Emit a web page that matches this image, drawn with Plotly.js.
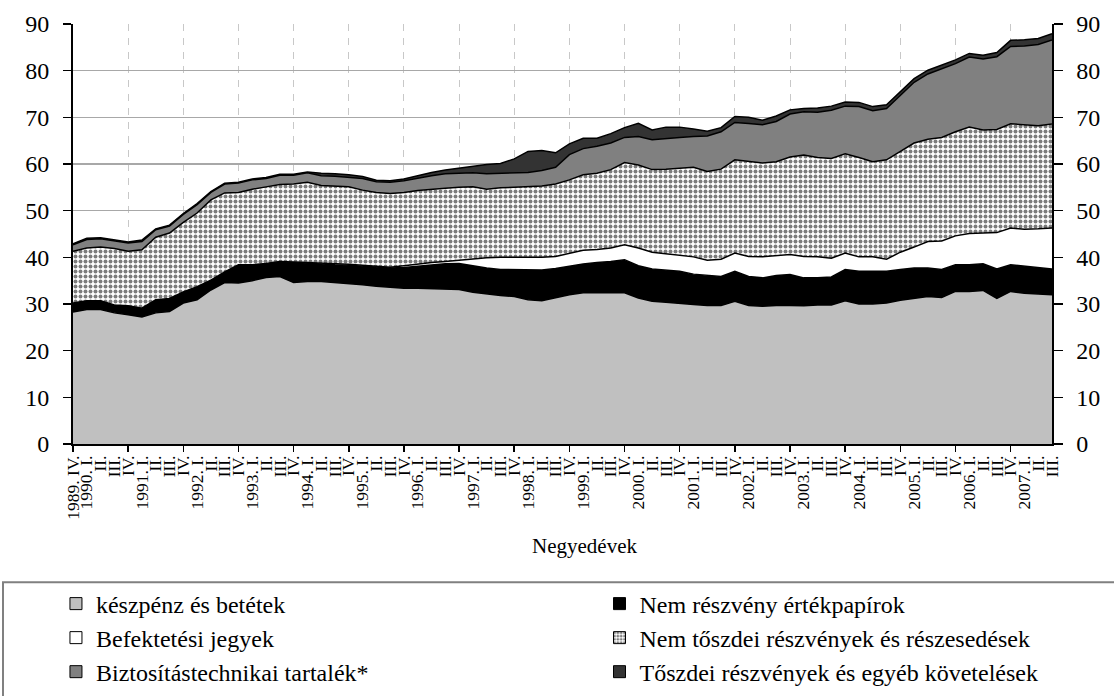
<!DOCTYPE html>
<html><head><meta charset="utf-8">
<script src="https://cdn.plot.ly/plotly-3.0.1.min.js"></script>
<style>html,body{margin:0;padding:0;background:#fff}#chart{width:1114px;height:696px}</style>
</head><body><div id="chart"></div>
<script>
const quarterLabels = [
 "1989. IV.",
 "1990. I.","II.","III.","IV.",
 "1991. I.","II.","III.","IV.",
 "1992. I.","II.","III.","IV.",
 "1993. I.","II.","III.","IV.",
 "1994. I.","II.","III.","IV.",
 "1995. I.","II.","III.","IV.",
 "1996. I.","II.","III.","IV.",
 "1997. I.","II.","III.","IV.",
 "1998. I.","II.","III.","IV.",
 "1999. I.","II.","III.","IV.",
 "2000. I.","II.","III.","IV.",
 "2001. I.","II.","III.","IV.",
 "2002. I.","II.","III.","IV.",
 "2003. I.","II.","III.","IV.",
 "2004. I.","II.","III.","IV.",
 "2005. I.","II.","III.","IV.",
 "2006. I.","II.","III.","IV.",
 "2007. I.","II.","III."
];

const keszpenz = [
 28.3,28.8,28.8,28.1,27.7,27.2,28.1,28.4,30.2,30.9,
 33.0,34.6,34.5,35.0,35.7,35.9,34.6,34.8,34.8,34.6,
 34.4,34.1,33.8,33.6,33.4,33.4,33.3,33.2,33.1,32.5,
 32.1,31.8,31.6,30.9,30.7,31.3,32.0,32.4,32.4,32.4,
 32.4,31.3,30.6,30.4,30.1,29.9,29.7,29.7,30.6,29.7,
 29.5,29.7,29.7,29.6,29.8,29.8,30.7,30.0,30.0,30.2,
 30.8,31.2,31.6,31.4,32.7,32.7,32.9,31.2,32.7,32.3,
 32.2,32.0];
const nemReszveny = [
 1.9,1.9,1.9,1.7,1.9,1.9,2.8,2.8,2.4,2.8,
 2.1,2.3,3.9,3.4,3.0,3.2,4.3,3.9,3.8,3.8,
 3.9,4.0,4.1,4.1,4.4,4.7,5.1,5.4,5.6,5.7,
 5.6,5.6,5.8,6.4,6.6,6.3,6.1,6.2,6.5,6.7,
 7.1,6.9,6.9,6.8,6.9,6.5,6.4,6.2,6.4,6.2,
 6.1,6.4,6.6,6.0,5.8,6.0,6.7,7.0,7.0,6.8,
 6.6,6.5,6.1,6.0,5.7,5.7,5.7,6.3,5.7,5.8,
 5.7,5.5];
const befektetesi = [
 0,0,0,0,0,0,0,0,0,0,
 0,0,0,0,0,0,0.1,0.2,0.2,0.2,
 0.2,0.2,0.2,0.2,0.4,0.5,0.5,0.5,0.7,1.4,
 2.2,2.6,2.6,2.7,2.7,2.6,2.8,2.9,2.8,2.9,
 3.2,3.8,3.6,3.6,3.4,3.7,3.3,3.7,3.9,4.3,
 4.5,4.3,4.3,4.6,4.5,4.0,3.5,3.1,3.1,2.6,
 3.7,4.5,5.7,6.1,6.2,6.7,6.6,7.8,7.9,7.9,
 8.2,8.8];
const nemTozsdei = [
 11.1,11.3,11.5,12.1,11.7,12.5,13.4,14.0,14.9,15.8,
 17.2,16.9,15.5,16.2,16.4,16.5,16.7,17.2,16.6,16.7,
 16.6,16.1,15.8,15.8,15.7,15.7,15.7,15.7,15.6,15.5,
 14.7,14.9,15.0,15.1,15.3,15.5,15.7,16.2,16.3,16.8,
 17.6,17.8,17.7,18.1,18.7,19.2,19.0,19.3,20.0,20.3,
 20.1,20.1,20.9,21.7,21.3,21.4,21.3,21.3,20.4,21.3,
 21.6,22.3,21.9,22.2,22.3,22.8,22.1,22.1,22.3,22.4,
 22.1,22.3];
const biztositas = [
 1.4,1.8,1.8,1.7,1.8,1.8,1.6,1.5,1.7,1.8,
 1.6,1.9,2.0,2.0,1.8,2.0,1.9,2.0,2.1,2.1,
 2.0,2.5,2.3,2.4,2.5,2.7,2.9,3.1,3.0,3.0,
 3.3,3.1,3.1,3.1,3.3,3.6,5.4,5.6,5.8,5.7,
 5.4,6.1,6.4,6.6,6.6,6.6,7.6,8.0,8.0,8.2,
 8.2,8.6,9.2,9.3,9.7,10.3,10.2,10.9,10.9,11.0,
 12.1,13.0,14.0,14.7,14.6,15.0,15.2,15.6,16.6,16.9,
 17.4,18.0];
const tozsdei = [
 0.2,0.3,0.2,0.2,0.2,0.3,0.2,0.2,0.2,0.2,
 0.2,0.2,0.2,0.2,0.2,0.2,0.2,0.2,0.5,0.5,
 0.6,0.4,0.3,0.3,0.4,0.5,0.7,0.8,1.1,1.5,
 2.0,2.1,3.0,4.5,4.3,3.1,2.3,2.2,1.7,2.0,
 2.1,2.8,2.1,2.4,2.2,1.6,1.0,0.9,1.3,1.3,
 1.0,1.2,0.9,0.7,0.9,0.9,0.9,0.9,0.9,0.8,
 0.8,0.8,0.8,0.8,0.8,0.8,0.8,0.9,1.3,1.3,
 1.3,1.3];

const seriesNames = [
 "készpénz és betétek",
 "Nem részvény értékpapírok",
 "Befektetési jegyek",
 "Nem tőszdei részvények és részesedések",
 "Biztosítástechnikai tartalék*",
 "Tőszdei részvények és egyéb követelések"
];
const seriesValues = [keszpenz, nemReszveny, befektetesi, nemTozsdei, biztositas, tozsdei];
const seriesColors = ["#c0c0c0", "#000000", "#ffffff", "#ffffff", "#808080", "#333333"];
const axisTitle = "Negyedévek";

const FONT = "Liberation Serif, Times New Roman, serif";
const idx = quarterLabels.map((_, i) => i);
const gridIdx = idx.filter(i => quarterLabels[i].endsWith("IV."));
const lastIdx = idx.length - 1;

const traces = [];
seriesValues.forEach((vals, k) => {
  const t = {type: "scatter", x: idx, y: vals, stackgroup: "one", mode: "lines",
    line: {color: "#000000", width: 1.5}, fillcolor: seriesColors[k],
    name: seriesNames[k], showlegend: false, hoverinfo: "skip"};
  if (k === 3) t.fillpattern = {shape: ".", fgcolor: "#7c7c7c", bgcolor: "#ffffff", size: 5, solidity: 0.5};
  traces.push(t);
});
// invisible carrier for the overlay axes (quarter labels, right y axis)
traces.push({type: "scatter", x: idx, y: keszpenz, xaxis: "x2", yaxis: "y2", mode: "lines",
  line: {width: 0, color: "rgba(0,0,0,0)"}, showlegend: false, hoverinfo: "skip"});

// legend entries: 2 columns x 3 rows, one legend per entry
const legendIds = ["legend", "legend2", "legend3", "legend4", "legend5", "legend6"];
seriesNames.forEach((nm, k) => {
  const m = {color: seriesColors[k], line: {color: "#000000", width: 1}};
  if (k === 3) m.pattern = {shape: ".", fgcolor: "#7c7c7c", bgcolor: "#ffffff", size: 4, solidity: 0.5};
  traces.push({type: "bar", x: [null], y: [null], name: nm, marker: m, legend: legendIds[k], showlegend: true, hoverinfo: "skip"});
});

const colX = [-0.0174, 0.5378];
const rowY = [-0.381, -0.462, -0.543];
const layout = {
  width: 1114, height: 696,
  margin: {l: 73, r: 62, t: 24, b: 252, autoexpand: false},
  paper_bgcolor: "#ffffff", plot_bgcolor: "#ffffff",
  font: {family: FONT, color: "#000000", size: 16},
  showlegend: true,
  xaxis: {range: [0, lastIdx], tickmode: "array", tickvals: gridIdx, showticklabels: false,
    ticks: "outside", ticklen: 6, tickcolor: "#000000", tickwidth: 1.5,
    showgrid: true, gridcolor: "#c8c8c8", gridwidth: 1, griddash: "7px,7px",
    showline: true, linecolor: "#000000", linewidth: 2, zeroline: false},
  xaxis2: {overlaying: "x", anchor: "y2", side: "bottom", range: [0, lastIdx], tickmode: "array", tickvals: idx, ticktext: quarterLabels,
    tickangle: -90, ticks: "", showgrid: false, showline: false, zeroline: false,
    tickfont: {family: FONT, size: 17.5, color: "#000"}, ticklabelstandoff: 7},
  yaxis: {range: [0, 90], tickmode: "linear", tick0: 0, dtick: 10, ticks: "outside", ticklen: 8,
    tickcolor: "#000000", tickwidth: 1.5, showline: true, linecolor: "#000000", linewidth: 2,
    showgrid: true, gridcolor: "#a8a8a8", gridwidth: 1.2, zeroline: false,
    tickfont: {family: FONT, size: 24, color: "#000"}, ticklabelstandoff: 9},
  yaxis2: {overlaying: "y", side: "right", anchor: "x2", range: [0, 90], tickmode: "linear", tick0: 0, dtick: 10,
    ticks: "outside", ticklen: 9, tickcolor: "#000000", tickwidth: 1.5, showline: true, linecolor: "#000000",
    linewidth: 1.5, showgrid: false, zeroline: false,
    tickfont: {family: FONT, size: 24, color: "#000"}, ticklabelstandoff: 9},
  annotations: [{text: axisTitle, xref: "paper", yref: "paper", x: 0.522, y: -0.243,
    xanchor: "center", yanchor: "middle", showarrow: false, font: {family: FONT, size: 21, color: "#000"}}],
  shapes: [{type: "rect", xref: "paper", yref: "paper", x0: -0.0715, x1: 1.1, y0: -0.329, y1: -0.7,
    line: {color: "#808080", width: 2}, fillcolor: "rgba(0,0,0,0)", layer: "above"}]
};
legendIds.forEach((id, k) => {
  layout[id] = {orientation: "v", x: colX[k % 2], xanchor: "left", y: rowY[Math.floor(k / 2)], yanchor: "middle",
    font: {family: FONT, size: 24, color: "#000"}, bgcolor: "rgba(0,0,0,0)", borderwidth: 0};
});

Plotly.newPlot("chart", traces, layout, {displayModeBar: false, staticPlot: true});
</script>
</body></html>
